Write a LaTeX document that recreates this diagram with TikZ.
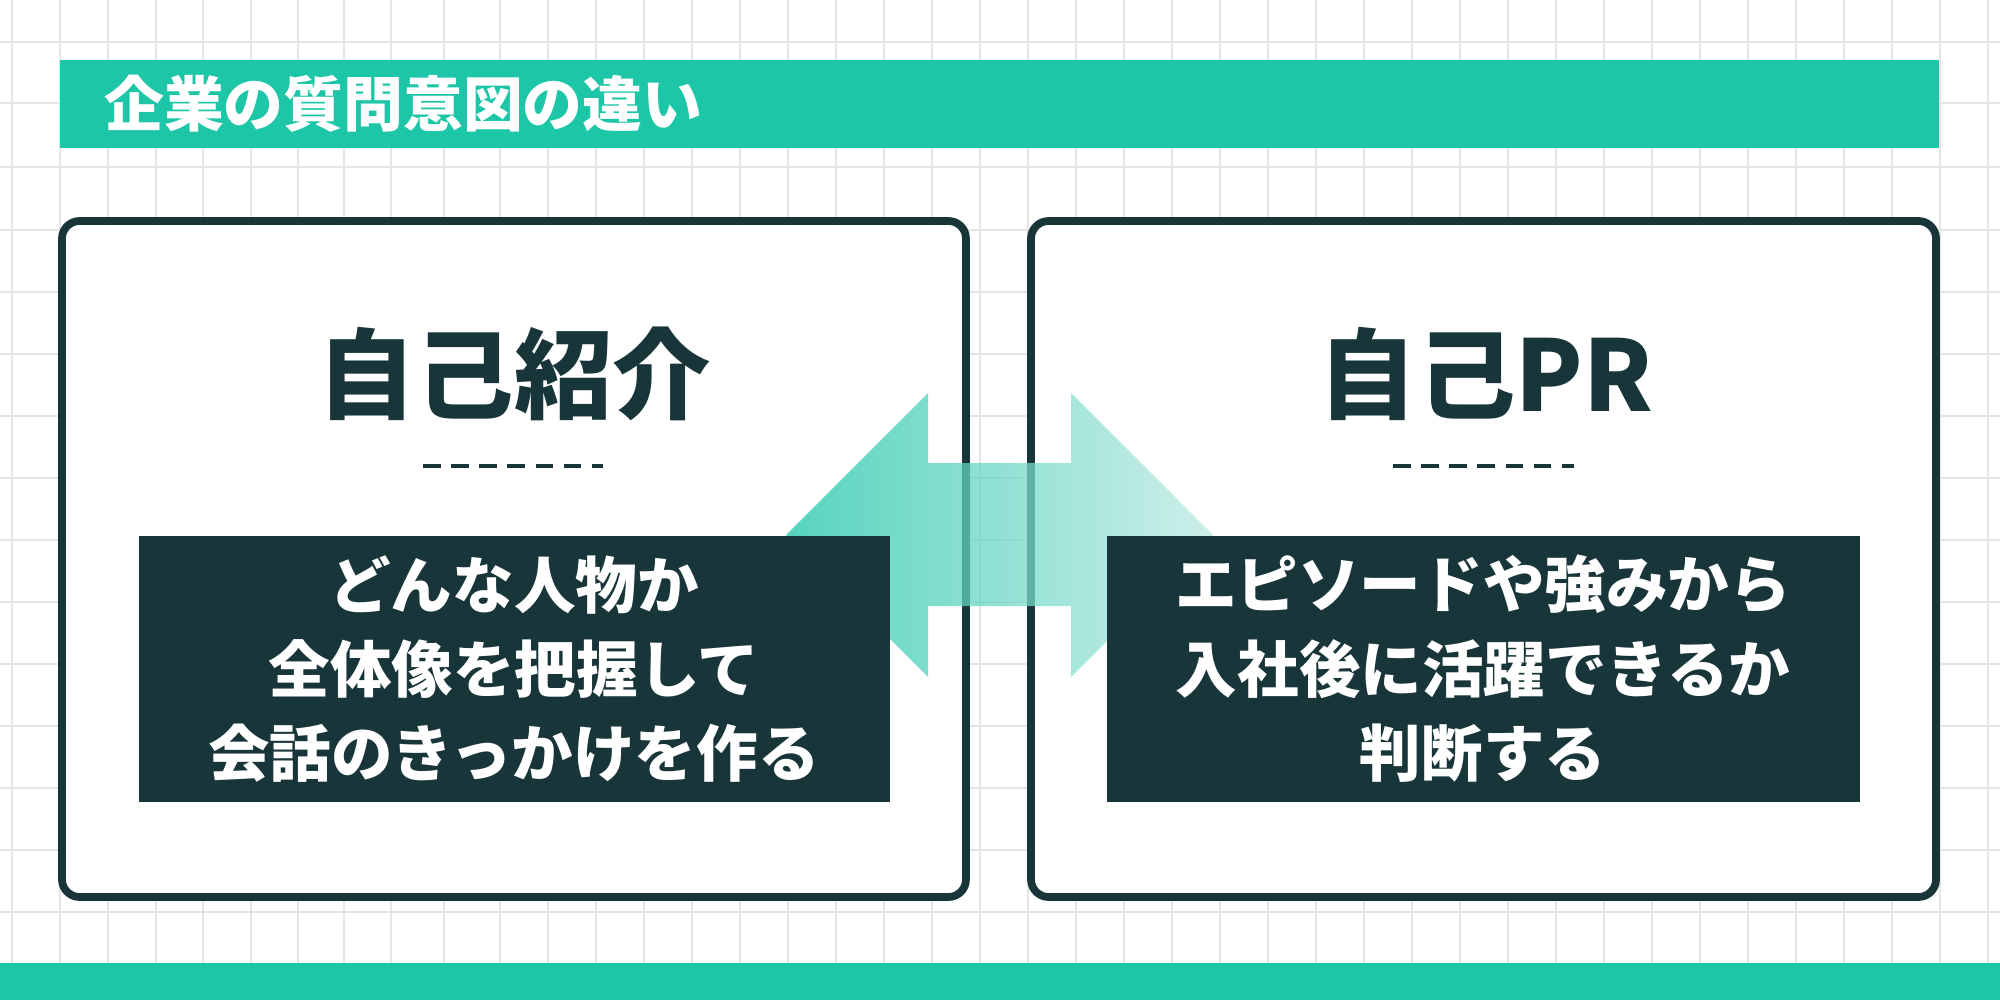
\documentclass[tikz,border=0pt]{standalone}
\usepackage{fontspec}
\newfontfamily\jp{Noto Sans CJK JP}
\definecolor{teal1}{HTML}{1EC6A8}
\definecolor{teal2}{HTML}{BDEAE3}
\definecolor{dark}{HTML}{183539}
\begin{document}
\begin{tikzpicture}[x=0.01cm,y=-0.01cm,
  card/.style={draw=dark,line width=2.2pt,rounded corners=5pt,fill=white},
  darkbox/.style={fill=dark},
  head/.style={font=\jp\bfseries\fontsize{28}{32}\selectfont,text=dark},
  body/.style={font=\jp\bfseries\fontsize{17.5}{22}\selectfont,text=white,align=center}]
\useasboundingbox (0,0) rectangle (2000,1000);
\fill[white] (0,0) rectangle (2000,1000);
\foreach \x in {12,60,108,156,203,251,298,344,391,444,500,548,596,644,692,740,788,836,884,932,980,1028,1076,1124,1172,1220,1268,1316,1364,1412,1460,1508,1556,1604,1652,1700,1748,1796,1844,1892,1940,1988}
  \draw[black!10,line width=0.5pt] (\x,0) -- (\x,1000);
\foreach \y in {42,103,167,230,292,354,416,478,540,602,664,726,788,850,912,974}
  \draw[black!10,line width=0.5pt] (0,\y) -- (2000,\y);
\fill[teal1] (60,60) rectangle (1939,148) node[midway] (tb) {};
\node[anchor=west,font=\jp\bfseries\fontsize{17}{20}\selectfont,text=white] (title) at (92,104) {企業の質問意図の違い};
\fill[teal1] (0,963) rectangle (2000,1000);
\draw[card] (62,221) rectangle (966,897);
\draw[card] (1031,221) rectangle (1936,897);
\node[head] (h1) at (514,374) {自己紹介};
\node[head] (h2) at (1486,374) {自己PR};
\draw[dark,line width=1.3pt,dash pattern=on 5pt off 3pt] (423,466) -- (603,466);
\draw[dark,line width=1.3pt,dash pattern=on 5pt off 3pt] (1393,466) -- (1574,466);
\shade[left color=teal1,right color=teal2,opacity=0.75]
  (786,535) -- (928,393) -- (928,463) -- (1071,463) -- (1071,393) -- (1213,535)
  -- (1071,677) -- (1071,606) -- (928,606) -- (928,677) -- cycle;
\fill[darkbox] (139,536) rectangle (890,802);
\fill[darkbox] (1107,536) rectangle (1860,802);
\node[body] (t1) at (514,669) {どんな人物か\\[2pt]全体像を把握して\\[2pt]会話のきっかけを作る};
\node[body] (t2) at (1483,669) {エピソードや強みから\\[2pt]入社後に活躍できるか\\[2pt]判断する};
\end{tikzpicture}
\end{document}
